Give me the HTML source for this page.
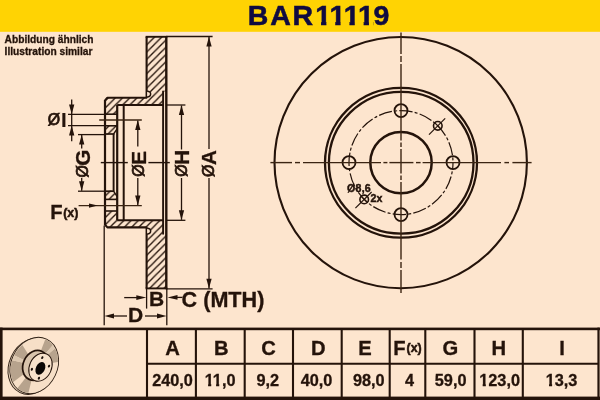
<!DOCTYPE html>
<html lang="de"><head><meta charset="utf-8"><title>BAR11119</title>
<style>html,body{margin:0;padding:0;background:#FDE5CE;}body{width:600px;height:400px;overflow:hidden;}svg{display:block;will-change:transform;}text{font-family:"Liberation Sans", Arial, Helvetica, sans-serif;font-weight:bold;fill:#24130A;stroke:#24130A;stroke-width:0.3px;}</style>
</head><body>
<svg width="600" height="400" viewBox="0 0 600 400">
<rect x="0" y="0" width="600" height="400" fill="#FDE5CE"/>
<rect x="0" y="0" width="600" height="31.8" fill="#FFD303"/>
<defs><clipPath id="ttl"><rect x="240" y="0" width="160" height="21.9"/><rect x="240" y="21.9" width="74" height="8"/><rect x="373.4" y="21.9" width="25" height="8"/><rect x="321.05" y="21.9" width="5.3" height="8"/><rect x="335.25" y="21.9" width="5.3" height="8"/><rect x="349.45" y="21.9" width="5.3" height="8"/><rect x="363.65" y="21.9" width="5.3" height="8"/></clipPath></defs>
<text clip-path="url(#ttl)" x="247.70 270.30 292.40 315.30 329.50 343.70 357.90 373.60" y="25.3" font-size="28.5" style="fill:#100B40;stroke:#100B40;stroke-width:0.55px">BAR11119</text>
<text x="4.6" y="42.6" font-size="10.2">Abbildung ähnlich</text>
<text x="4.6" y="54.8" font-size="10.2">Illustration similar</text>
<defs>
<pattern id="hatch" patternUnits="userSpaceOnUse" width="7.2" height="7.2" x="4.4" y="0">
<path d="M-1.8,1.8 L1.8,-1.8 M0,7.2 L7.2,0 M5.4,9 L9,5.4" stroke="#24130A" stroke-width="1.35" fill="none"/>
</pattern>
<pattern id="hatch2" patternUnits="userSpaceOnUse" width="7.2" height="7.2" x="6.0" y="0">
<path d="M-1.8,1.8 L1.8,-1.8 M0,7.2 L7.2,0 M5.4,9 L9,5.4" stroke="#24130A" stroke-width="1.35" fill="none"/>
</pattern>
</defs>
<polygon points="146.60,36.80 166.30,36.80 166.30,91.40 163.10,91.40 163.10,105.00 117.20,105.00 117.20,114.20 105.00,114.20 105.00,100.40 107.40,97.80 146.40,97.80" fill="url(#hatch)" stroke="none"/>
<polygon points="105.00,125.80 117.20,125.80 117.20,128.60 113.60,134.00 113.60,134.60 105.00,134.60" fill="url(#hatch)" stroke="none"/>
<polygon points="146.60,288.40 166.30,288.40 166.30,233.80 163.10,233.80 163.10,220.20 117.20,220.20 117.20,211.00 105.00,211.00 105.00,224.80 107.40,227.40 146.40,227.40" fill="url(#hatch2)" stroke="none"/>
<polygon points="105.00,199.40 117.20,199.40 117.20,196.60 113.60,191.20 113.60,190.60 105.00,190.60" fill="url(#hatch2)" stroke="none"/>
<line x1="145.60" y1="36.80" x2="167.30" y2="36.80" stroke="#24130A" stroke-width="1.90" />
<line x1="146.60" y1="36.80" x2="146.60" y2="97.80" stroke="#24130A" stroke-width="2.10" />
<path d="M147.10,91.30 C151.80,91.00 151.80,96.90 147.10,96.90" fill="#FDE5CE" stroke="#24130A" stroke-width="1.5"/>
<path d="M147.20,97.80 L107.40,97.80 L105.00,100.40" fill="none" stroke="#24130A" stroke-width="2.1" stroke-linejoin="round"/>
<line x1="117.20" y1="105.00" x2="163.10" y2="105.00" stroke="#24130A" stroke-width="2.00" />
<line x1="105.00" y1="114.20" x2="117.20" y2="114.20" stroke="#24130A" stroke-width="1.60" />
<line x1="105.00" y1="125.80" x2="117.20" y2="125.80" stroke="#24130A" stroke-width="1.60" />
<line x1="105.00" y1="134.00" x2="114.20" y2="134.00" stroke="#24130A" stroke-width="1.70" />
<line x1="117.20" y1="128.60" x2="113.60" y2="134.00" stroke="#24130A" stroke-width="1.40" />
<line x1="145.60" y1="288.40" x2="167.30" y2="288.40" stroke="#24130A" stroke-width="1.90" />
<line x1="146.60" y1="288.40" x2="146.60" y2="227.40" stroke="#24130A" stroke-width="2.10" />
<path d="M147.10,233.90 C151.80,234.20 151.80,228.30 147.10,228.30" fill="#FDE5CE" stroke="#24130A" stroke-width="1.5"/>
<path d="M147.20,227.40 L107.40,227.40 L105.00,224.80" fill="none" stroke="#24130A" stroke-width="2.1" stroke-linejoin="round"/>
<line x1="117.20" y1="220.20" x2="163.10" y2="220.20" stroke="#24130A" stroke-width="2.00" />
<line x1="105.00" y1="211.00" x2="117.20" y2="211.00" stroke="#24130A" stroke-width="1.60" />
<line x1="105.00" y1="199.40" x2="117.20" y2="199.40" stroke="#24130A" stroke-width="1.60" />
<line x1="105.00" y1="191.20" x2="114.20" y2="191.20" stroke="#24130A" stroke-width="1.70" />
<line x1="117.20" y1="196.60" x2="113.60" y2="191.20" stroke="#24130A" stroke-width="1.40" />
<line x1="166.30" y1="36.00" x2="166.30" y2="289.20" stroke="#24130A" stroke-width="2.40" />
<line x1="163.10" y1="91.40" x2="163.10" y2="233.80" stroke="#24130A" stroke-width="1.90" stroke-linecap="round"/>
<line x1="105.00" y1="100.00" x2="105.00" y2="225.20" stroke="#24130A" stroke-width="2.20" />
<line x1="117.20" y1="105.00" x2="117.20" y2="220.20" stroke="#24130A" stroke-width="2.20" />
<line x1="123.70" y1="105.00" x2="123.70" y2="220.20" stroke="#24130A" stroke-width="2.00" />
<line x1="113.60" y1="134.00" x2="113.60" y2="191.20" stroke="#24130A" stroke-width="1.90" />
<line x1="166.30" y1="36.50" x2="212.60" y2="36.50" stroke="#24130A" stroke-width="1.30" />
<line x1="166.30" y1="288.80" x2="212.60" y2="288.80" stroke="#24130A" stroke-width="1.30" />
<line x1="209.00" y1="37.00" x2="209.00" y2="149.00" stroke="#24130A" stroke-width="1.30" />
<line x1="209.00" y1="178.00" x2="209.00" y2="288.40" stroke="#24130A" stroke-width="1.30" />
<polygon points="209.00,36.70 206.35,46.50 211.65,46.50" fill="#24130A"/>
<polygon points="209.00,288.60 206.35,278.80 211.65,278.80" fill="#24130A"/>
<line x1="166.30" y1="105.00" x2="185.40" y2="105.00" stroke="#24130A" stroke-width="1.30" />
<line x1="166.30" y1="220.30" x2="185.40" y2="220.30" stroke="#24130A" stroke-width="1.30" />
<line x1="181.50" y1="105.50" x2="181.50" y2="149.50" stroke="#24130A" stroke-width="1.30" />
<line x1="181.50" y1="178.00" x2="181.50" y2="219.80" stroke="#24130A" stroke-width="1.30" />
<polygon points="181.50,105.20 178.85,115.00 184.15,115.00" fill="#24130A"/>
<polygon points="181.50,220.10 178.85,210.30 184.15,210.30" fill="#24130A"/>
<line x1="137.80" y1="120.50" x2="137.80" y2="146.50" stroke="#24130A" stroke-width="1.30" />
<line x1="137.80" y1="178.00" x2="137.80" y2="205.00" stroke="#24130A" stroke-width="1.30" />
<polygon points="137.80,120.10 135.15,129.90 140.45,129.90" fill="#24130A"/>
<polygon points="137.80,205.40 135.15,195.60 140.45,195.60" fill="#24130A"/>
<line x1="99.20" y1="120.00" x2="141.80" y2="120.00" stroke="#3B2412" stroke-width="1.30" />
<line x1="78.60" y1="205.60" x2="141.80" y2="205.60" stroke="#3B2412" stroke-width="1.30" />
<polygon points="97.80,205.60 89.00,203.50 89.00,207.70" fill="#24130A"/>
<line x1="78.00" y1="134.60" x2="105.00" y2="134.60" stroke="#24130A" stroke-width="1.30" />
<line x1="78.00" y1="191.20" x2="105.00" y2="191.20" stroke="#24130A" stroke-width="1.30" />
<line x1="81.70" y1="135.00" x2="81.70" y2="148.50" stroke="#24130A" stroke-width="1.30" />
<line x1="81.70" y1="178.00" x2="81.70" y2="190.80" stroke="#24130A" stroke-width="1.30" />
<polygon points="81.70,134.80 79.05,144.60 84.35,144.60" fill="#24130A"/>
<polygon points="81.70,191.00 79.05,181.20 84.35,181.20" fill="#24130A"/>
<line x1="68.00" y1="114.30" x2="105.00" y2="114.30" stroke="#24130A" stroke-width="1.30" />
<line x1="68.00" y1="125.60" x2="105.00" y2="125.60" stroke="#24130A" stroke-width="1.30" />
<line x1="71.70" y1="99.60" x2="71.70" y2="141.20" stroke="#24130A" stroke-width="1.30" />
<polygon points="71.70,114.30 69.05,104.50 74.35,104.50" fill="#24130A"/>
<polygon points="71.70,125.60 69.05,135.40 74.35,135.40" fill="#24130A"/>
<line x1="146.60" y1="288.80" x2="146.60" y2="308.60" stroke="#24130A" stroke-width="1.30" />
<line x1="166.80" y1="288.80" x2="166.80" y2="325.20" stroke="#24130A" stroke-width="1.30" />
<line x1="104.20" y1="225.60" x2="104.20" y2="325.20" stroke="#24130A" stroke-width="1.30" />
<line x1="124.20" y1="297.60" x2="140.00" y2="297.60" stroke="#24130A" stroke-width="1.30" />
<polygon points="146.30,297.60 136.30,295.20 136.30,300.00" fill="#24130A"/>
<line x1="176.00" y1="297.40" x2="182.40" y2="297.40" stroke="#24130A" stroke-width="1.30" />
<polygon points="167.50,297.40 177.50,295.00 177.50,299.80" fill="#24130A"/>
<line x1="110.00" y1="316.00" x2="127.00" y2="316.00" stroke="#24130A" stroke-width="1.30" />
<polygon points="104.40,316.00 114.00,313.60 114.00,318.40" fill="#24130A"/>
<line x1="145.00" y1="316.00" x2="160.00" y2="316.00" stroke="#24130A" stroke-width="1.30" />
<polygon points="166.60,316.00 157.00,313.60 157.00,318.40" fill="#24130A"/>
<line x1="100.80" y1="162.60" x2="127.80" y2="162.60" stroke="#24130A" stroke-width="1.40" />
<line x1="148.40" y1="162.60" x2="169.80" y2="162.60" stroke="#24130A" stroke-width="1.40" />
<text transform="translate(89.80,177.60) rotate(-90)" font-size="20.6"><tspan font-weight="normal" font-size="15.9" style="stroke-width:0.75px" dy="-2.0">Ø</tspan><tspan dy="2.0" dx="-0.4">G</tspan></text>
<text transform="translate(145.60,176.80) rotate(-90)" font-size="20.6"><tspan font-weight="normal" font-size="15.9" style="stroke-width:0.75px" dy="-2.0">Ø</tspan><tspan dy="2.0" dx="-0.4">E</tspan></text>
<text transform="translate(189.00,176.80) rotate(-90)" font-size="20.6"><tspan font-weight="normal" font-size="15.9" style="stroke-width:0.75px" dy="-2.0">Ø</tspan><tspan dy="2.0" dx="-0.4">H</tspan></text>
<text transform="translate(215.60,177.00) rotate(-90)" font-size="20.6"><tspan font-weight="normal" font-size="15.9" style="stroke-width:0.75px" dy="-2.0">Ø</tspan><tspan dy="2.0" dx="-0.4">A</tspan></text>
<text x="47.7" y="126.5" font-size="20.6"><tspan font-weight="normal" font-size="15.9" style="stroke-width:0.75px" font-size="15.3" dy="-1.5">Ø</tspan><tspan dy="1.5" dx="1.0" style="stroke-width:0.1px">I</tspan></text>
<text x="50.2" y="218.9" font-size="20.2">F<tspan font-size="12.4" dx="0.6" dy="-2.4" style="stroke-width:0.5px">(x)</tspan></text>
<text x="156.5" y="306.3" font-size="21.0" text-anchor="middle">B</text>
<text x="181.6" y="307.0" font-size="21.6">C (MTH)</text>
<text x="135.7" y="322.2" font-size="21.0" text-anchor="middle">D</text>
<ellipse cx="400.70" cy="162.60" rx="126.2" ry="125.6" fill="none" stroke="#24130A" stroke-width="2.1"/>
<ellipse cx="401.00" cy="162.80" rx="76.0" ry="74.9" fill="none" stroke="#24130A" stroke-width="2.3"/>
<ellipse cx="401.20" cy="162.80" rx="72.3" ry="70.9" fill="none" stroke="#24130A" stroke-width="2.3"/>
<circle cx="401.00" cy="162.60" r="30.7" fill="none" stroke="#24130A" stroke-width="2.5"/>
<circle cx="401.00" cy="162.60" r="52" fill="none" stroke="#24130A" stroke-width="1.2" stroke-dasharray="13.4 2.2 3 2.2" stroke-dashoffset="6.7"/>
<circle cx="401.00" cy="110.60" r="6.5" fill="none" stroke="#24130A" stroke-width="1.8"/>
<circle cx="453.00" cy="162.60" r="6.5" fill="none" stroke="#24130A" stroke-width="1.8"/>
<circle cx="401.00" cy="214.60" r="6.5" fill="none" stroke="#24130A" stroke-width="1.8"/>
<circle cx="349.00" cy="162.60" r="6.5" fill="none" stroke="#24130A" stroke-width="1.8"/>
<circle cx="437.80" cy="125.80" r="4.3" fill="none" stroke="#24130A" stroke-width="1.6"/>
<line x1="429.00" y1="134.60" x2="445.20" y2="118.40" stroke="#24130A" stroke-width="1.20" />
<line x1="434.60" y1="122.60" x2="441.00" y2="129.00" stroke="#24130A" stroke-width="1.20" />
<circle cx="364.20" cy="199.40" r="4.3" fill="none" stroke="#24130A" stroke-width="1.6"/>
<line x1="355.40" y1="208.20" x2="371.60" y2="192.00" stroke="#24130A" stroke-width="1.20" />
<line x1="361.00" y1="196.20" x2="367.40" y2="202.60" stroke="#24130A" stroke-width="1.20" />
<line x1="270.40" y1="162.60" x2="292.00" y2="162.60" stroke="#3B2412" stroke-width="1.40" />
<line x1="295.00" y1="162.60" x2="300.00" y2="162.60" stroke="#3B2412" stroke-width="1.40" />
<line x1="303.00" y1="162.60" x2="381.00" y2="162.60" stroke="#3B2412" stroke-width="1.40" />
<line x1="383.40" y1="162.60" x2="387.40" y2="162.60" stroke="#3B2412" stroke-width="1.40" />
<line x1="389.40" y1="162.60" x2="413.40" y2="162.60" stroke="#3B2412" stroke-width="1.40" />
<line x1="416.00" y1="162.60" x2="420.60" y2="162.60" stroke="#3B2412" stroke-width="1.40" />
<line x1="422.60" y1="162.60" x2="501.00" y2="162.60" stroke="#3B2412" stroke-width="1.40" />
<line x1="504.40" y1="162.60" x2="509.00" y2="162.60" stroke="#3B2412" stroke-width="1.40" />
<line x1="512.40" y1="162.60" x2="531.60" y2="162.60" stroke="#3B2412" stroke-width="1.40" />
<line x1="401.00" y1="32.60" x2="401.00" y2="54.00" stroke="#3B2412" stroke-width="1.40" />
<line x1="401.00" y1="56.00" x2="401.00" y2="62.00" stroke="#3B2412" stroke-width="1.40" />
<line x1="401.00" y1="64.00" x2="401.00" y2="140.40" stroke="#3B2412" stroke-width="1.40" />
<line x1="401.00" y1="142.40" x2="401.00" y2="147.00" stroke="#3B2412" stroke-width="1.40" />
<line x1="401.00" y1="149.00" x2="401.00" y2="173.60" stroke="#3B2412" stroke-width="1.40" />
<line x1="401.00" y1="175.60" x2="401.00" y2="180.00" stroke="#3B2412" stroke-width="1.40" />
<line x1="401.00" y1="182.00" x2="401.00" y2="259.60" stroke="#3B2412" stroke-width="1.40" />
<line x1="401.00" y1="262.00" x2="401.00" y2="268.00" stroke="#3B2412" stroke-width="1.40" />
<line x1="401.00" y1="270.00" x2="401.00" y2="293.00" stroke="#3B2412" stroke-width="1.40" />
<text x="347.0" y="192.2" font-size="10.6" style="stroke-width:0.45px;letter-spacing:0.25px">Ø8,6</text>
<text x="370.6" y="202.4" font-size="10.6" style="stroke-width:0.45px">2x</text>
<rect x="0" y="327.6" width="600" height="2.6" fill="#24130A"/>
<rect x="0" y="396.6" width="600" height="3.4" fill="#24130A"/>
<rect x="0" y="327.6" width="2.6" height="72.4" fill="#24130A"/>
<rect x="597.4" y="327.6" width="2.2" height="72.4" fill="#24130A"/>
<line x1="147.00" y1="363.80" x2="598.00" y2="363.80" stroke="#24130A" stroke-width="2.00" />
<line x1="147.00" y1="328.90" x2="147.00" y2="398.30" stroke="#24130A" stroke-width="2.10" />
<line x1="195.90" y1="328.90" x2="195.90" y2="398.30" stroke="#24130A" stroke-width="2.10" />
<line x1="244.70" y1="328.90" x2="244.70" y2="398.30" stroke="#24130A" stroke-width="2.10" />
<line x1="293.00" y1="328.90" x2="293.00" y2="398.30" stroke="#24130A" stroke-width="2.10" />
<line x1="341.70" y1="328.90" x2="341.70" y2="398.30" stroke="#24130A" stroke-width="2.10" />
<line x1="389.70" y1="328.90" x2="389.70" y2="398.30" stroke="#24130A" stroke-width="2.10" />
<line x1="425.30" y1="328.90" x2="425.30" y2="398.30" stroke="#24130A" stroke-width="2.10" />
<line x1="474.50" y1="328.90" x2="474.50" y2="398.30" stroke="#24130A" stroke-width="2.10" />
<line x1="522.80" y1="328.90" x2="522.80" y2="398.30" stroke="#24130A" stroke-width="2.10" />
<text x="172.50" y="354.5" font-size="20.2" text-anchor="middle">A</text>
<text x="221.20" y="354.5" font-size="20.2" text-anchor="middle">B</text>
<text x="268.65" y="354.5" font-size="20.2" text-anchor="middle">C</text>
<text x="318.20" y="354.5" font-size="20.2" text-anchor="middle">D</text>
<text x="365.10" y="354.5" font-size="20.2" text-anchor="middle">E</text>
<text x="393.3" y="354.5" font-size="20.2">F<tspan font-size="12.4" dx="0.9" dy="-2.1" style="stroke-width:0.5px">(x)</tspan></text>
<text x="450.30" y="354.5" font-size="20.2" text-anchor="middle">G</text>
<text x="498.70" y="354.5" font-size="20.2" text-anchor="middle">H</text>
<text x="562.05" y="354.5" font-size="20.2" text-anchor="middle">I</text>
<text x="172.55" y="386.1" font-size="16.3" text-anchor="middle">240,0</text>
<defs><clipPath id="fc220"><rect x="200.0" y="366" width="80" height="17.9"/><rect x="222.2" y="383.9" width="60" height="8"/><rect x="208.10" y="383.9" width="3.1" height="4"/><rect x="216.10" y="383.9" width="3.1" height="4"/></clipPath></defs>
<text clip-path="url(#fc220)" x="220.10" y="386.1" font-size="16.3" text-anchor="middle">11,0</text>
<text x="267.80" y="386.1" font-size="16.3" text-anchor="middle">9,2</text>
<text x="316.50" y="386.1" font-size="16.3" text-anchor="middle">40,0</text>
<text x="368.80" y="386.1" font-size="16.3" text-anchor="middle">98,0</text>
<text x="409.45" y="386.1" font-size="16.3" text-anchor="middle">4</text>
<text x="450.65" y="386.1" font-size="16.3" text-anchor="middle">59,0</text>
<defs><clipPath id="fc499"><rect x="476.0" y="366" width="80" height="17.9"/><rect x="488.8" y="383.9" width="60" height="8"/><rect x="482.70" y="383.9" width="3.1" height="4"/></clipPath></defs>
<text clip-path="url(#fc499)" x="499.60" y="386.1" font-size="16.3" text-anchor="middle">123,0</text>
<defs><clipPath id="fc561"><rect x="542.0" y="366" width="80" height="17.9"/><rect x="554.9" y="383.9" width="60" height="8"/><rect x="549.00" y="383.9" width="3.1" height="4"/></clipPath></defs>
<text clip-path="url(#fc561)" x="561.50" y="386.1" font-size="16.3" text-anchor="middle">13,3</text>
<defs><clipPath id="face"><ellipse cx="34.25" cy="365.55" rx="22.5" ry="28.4" transform="rotate(25 34.25 365.55)"/></clipPath></defs>
<ellipse cx="32.35" cy="366.25" rx="23.2" ry="29.1" transform="rotate(25 32.35 366.25)" fill="#e6d1b9" stroke="#2e1f14" stroke-width="0.9"/>
<ellipse cx="34.25" cy="365.55" rx="23.2" ry="29.1" transform="rotate(25 34.25 365.55)" fill="#f6dfc7" stroke="#2e1f14" stroke-width="0.9"/>
<g clip-path="url(#face)">
<polygon points="35.20,365.60 49.53,328.26 52.73,329.65 55.80,331.31 58.71,333.24 61.44,335.41" fill="#b7a38d"/>
<polygon points="35.20,365.60 65.39,339.36 67.70,342.28 69.72,345.40 71.45,348.70 72.87,352.14 73.95,355.70 74.71,359.34" fill="#b7a38d"/>
<polygon points="35.20,365.60 25.52,404.41 22.31,403.47 19.19,402.25 16.18,400.79 13.30,399.07 10.57,397.12" fill="#b7a38d"/>
<polygon points="35.20,365.60 3.25,389.67 1.07,386.47 -0.79,383.07 -2.31,379.50 -3.48,375.80 -4.28,372.01 -4.72,368.16 -4.78,364.28 -4.46,360.42 -3.77,356.60" fill="#b7a38d"/>
<polygon points="35.20,365.60 -0.75,348.07 1.03,344.80 3.12,341.71 5.47,338.83 8.09,336.19 10.94,333.80 14.00,331.68" fill="#b7a38d"/>
<polygon points="35.20,365.60 61.44,335.41 63.48,337.32 65.39,339.36" fill="#dcc8b1"/>
<polygon points="35.20,365.60 -3.77,356.60 -2.98,353.68 -1.97,350.83 -0.75,348.07" fill="#dcc8b1"/>
</g>
<ellipse cx="35.60" cy="365.40" rx="12.4" ry="15.4" transform="rotate(25 35.60 365.40)" fill="#d9c4ac" stroke="#24130A" stroke-width="1.7"/>
<ellipse cx="40.50" cy="367.20" rx="11.0" ry="14.6" transform="rotate(25 40.50 367.20)" fill="#f8e2cb" stroke="#24130A" stroke-width="1.0"/>
<ellipse cx="40.4" cy="368.4" rx="4.5" ry="6.8" transform="rotate(25 40.4 368.4)" fill="#0b0705"/>
<ellipse cx="42.30" cy="357.60" rx="1.05" ry="1.5" transform="rotate(25 42.30 357.60)" fill="#160c06"/>
<ellipse cx="49.00" cy="366.10" rx="1.05" ry="1.5" transform="rotate(25 49.00 366.10)" fill="#160c06"/>
<ellipse cx="38.90" cy="378.20" rx="1.05" ry="1.5" transform="rotate(25 38.90 378.20)" fill="#160c06"/>
<ellipse cx="31.90" cy="369.30" rx="1.05" ry="1.5" transform="rotate(25 31.90 369.30)" fill="#160c06"/>
</svg>
</body></html>
